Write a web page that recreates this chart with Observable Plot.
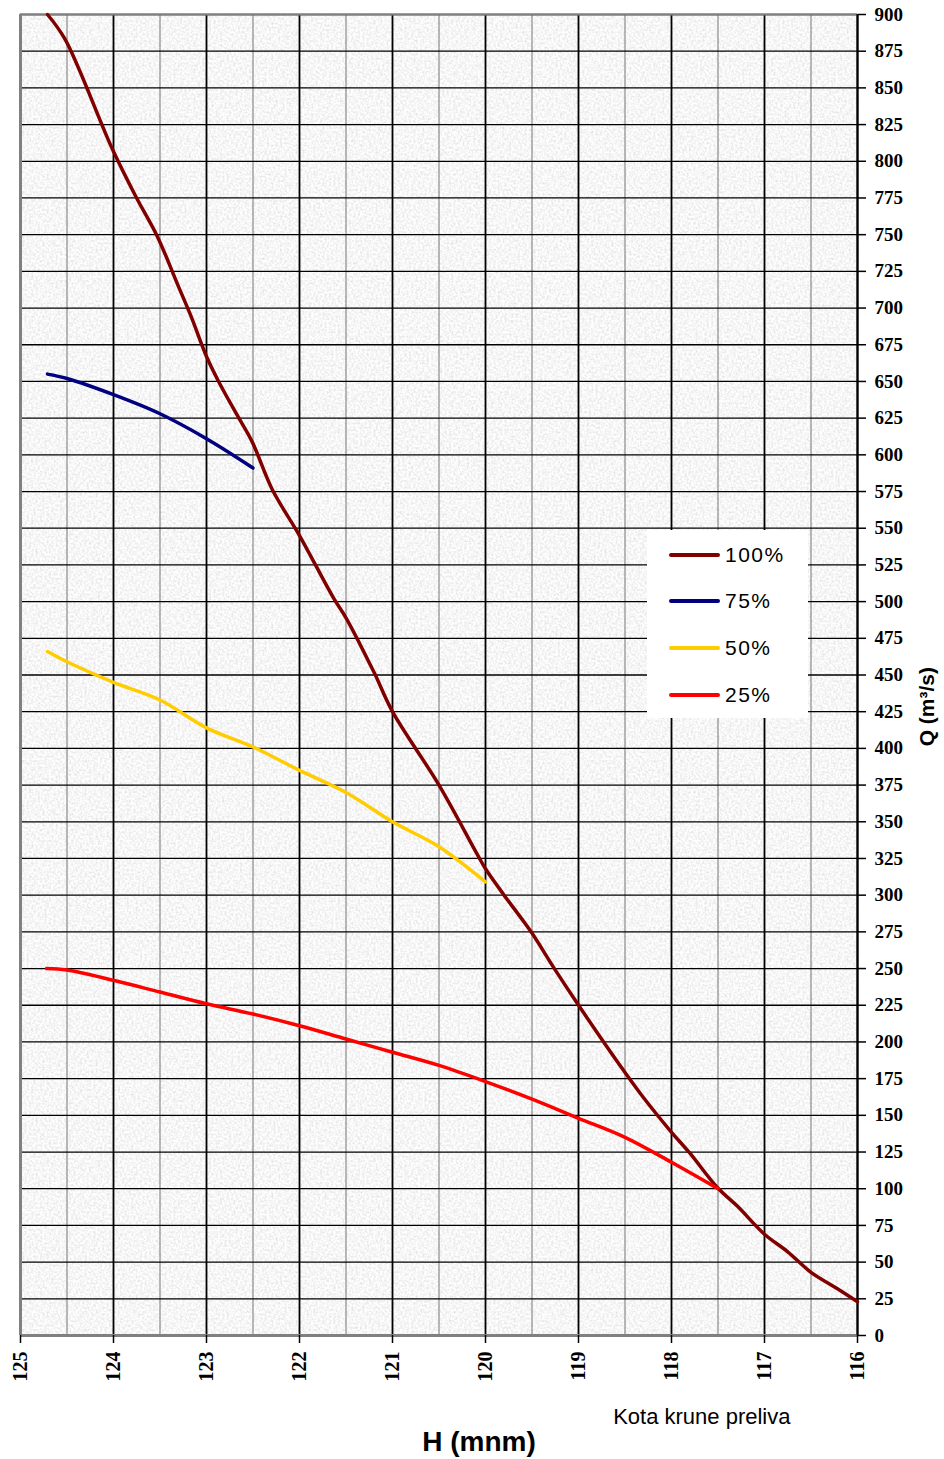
<!DOCTYPE html>
<html><head><meta charset="utf-8">
<script src="https://cdn.jsdelivr.net/npm/d3@7"></script>
<script src="https://cdn.jsdelivr.net/npm/@observablehq/plot@0.6"></script>
<style>
body{margin:0;background:#fff;}
#wrap{position:relative;width:944px;height:1459px;}
#legend{position:absolute;left:647px;top:530px;width:161px;height:188px;background:#fff;font-family:"Liberation Sans",Arial,sans-serif;font-size:21px;color:#000;}
.row{position:absolute;left:22px;height:24px;display:flex;align-items:center;letter-spacing:1.5px;}
.sw{width:51px;height:4px;border-radius:2px;margin-right:5px;}
</style></head>
<body><div id="wrap"><div id="legend"></div></div>
<script>
// Series names and colors
const seriesNames = ["100%", "75%", "50%", "25%"];
const seriesColors = ["#800000", "#000080", "#FFCC00", "#FF0000"];

// 100%
const h100 = [124.71, 124.52, 124.01, 123.76, 123.53, 123.31, 123.17, 123.0, 122.87, 122.67, 122.51, 122.29, 122.0, 121.63, 121.5, 121.2, 121.0, 120.5, 120.09, 120.0, 119.8, 119.51, 119.27, 119.01, 118.73, 118.52, 118.3, 118.02, 117.8, 117.51, 117.29, 117.0, 116.75, 116.5, 116.22, 116.0];
const q100 = [900, 883, 808, 776, 749, 716, 695, 667, 650, 627, 609, 576, 545, 502, 489, 452, 425, 375, 328, 318, 300, 275, 251, 226, 200, 181, 162, 140, 124, 101, 88, 69, 57, 43, 32, 23];
// 75%
const h75 = [124.71, 124.5, 124.0, 123.5, 123.0, 122.5];
const q75 = [655, 652, 641, 628, 611, 591];
// 50%
const h50 = [124.71, 124.5, 124.0, 123.5, 123.0, 122.5, 122.0, 121.5, 121.0, 120.5, 120.0];
const q50 = [466, 459, 445, 433, 414, 401, 385, 370, 350, 333, 309];
// 25%
const h25 = [124.72, 124.5, 124.0, 123.5, 123.0, 122.5, 122.0, 121.5, 121.0, 120.5, 120.0, 119.5, 119.0, 118.5, 118.0, 117.5];
const q25 = [250, 249, 242, 234, 226, 219, 211, 202, 193, 184, 173, 161, 148, 135, 118, 100];

// Ticks
const hTicks = [125, 124, 123, 122, 121, 120, 119, 118, 117, 116];
const hHalfTicks = [124.5, 123.5, 122.5, 121.5, 120.5, 119.5, 118.5, 117.5, 116.5];
const qTicks = d3.range(0, 901, 25);

const hs = [h100, h75, h50, h25];
const qs = [q100, q75, q50, q25];
const data = seriesNames.map((name, i) => ({name, color: seriesColors[i], pts: hs[i].map((h, j) => ({H: h, Q: qs[i][j]}))}));

const sans = "'Liberation Sans', Arial, sans-serif";
const chart = Plot.plot({
  width: 944, height: 1459,
  marginTop: 14, marginBottom: 124, marginLeft: 20, marginRight: 87,
  x: {domain: [125, 116]},
  y: {domain: [0, 900]},
  style: {background: "transparent", color: "#000", fontFamily: "'Liberation Serif', serif"},
  marks: [
    Plot.frame({fill: "#ebebeb", stroke: null, className: "bgframe"}),
    Plot.gridX(hHalfTicks, {stroke: "#8a8a8a", strokeOpacity: 1, strokeWidth: 1.2}),
    Plot.gridX(hTicks, {stroke: "#000", strokeOpacity: 1, strokeWidth: 1.8}),
    Plot.gridY(qTicks, {stroke: "#000", strokeOpacity: 1, strokeWidth: 1.3}),
    Plot.ruleY([900], {stroke: "#808080", strokeWidth: 2}),
    Plot.ruleY([0], {stroke: "#808080", strokeWidth: 3}),
    Plot.ruleX([125], {stroke: "#808080", strokeWidth: 3}),
    Plot.ruleX([116], {stroke: "#000", strokeWidth: 2}),
    ...data.map(s => Plot.line(s.pts, {x: "H", y: "Q", stroke: s.color, strokeWidth: 3.5, curve: "catmull-rom", strokeLinecap: "round", strokeLinejoin: "round"})),
    Plot.axisY(qTicks, {anchor: "right", tickSize: 8, tickPadding: 9, fontSize: 19, fontWeight: "bold", label: null, stroke: "#000", strokeWidth: 1.5}),
    Plot.axisX(hTicks, {anchor: "bottom", tickSize: 8, tickPadding: 8, tickRotate: -90, fontSize: 20, fontWeight: "bold", label: null, stroke: "#000", strokeWidth: 1.5, tickFormat: d => String(d)}),
    Plot.text(["Kota krune preliva"], {frameAnchor: "bottom-right", dx: -67, dy: 88, textAnchor: "end", fontFamily: sans, fontSize: 22}),
    Plot.text(["H (mnm)"], {frameAnchor: "bottom", dx: 40, dy: 115, fontFamily: sans, fontWeight: "bold", fontSize: 28}),
    Plot.text(["Q (m³/s)"], {frameAnchor: "right", dx: 70, dy: -8, rotate: -90, fontFamily: sans, fontWeight: "bold", fontSize: 21})
  ]
});
document.getElementById("wrap").prepend(chart);
chart.style.position = "absolute"; chart.style.left = "0"; chart.style.top = "0";

// Paper-like texture on the plot background
const svgNS = "http://www.w3.org/2000/svg";
const defs = document.createElementNS(svgNS, "defs");
defs.innerHTML = `<filter id="paper" x="0" y="0" width="1" height="1">
  <feTurbulence type="fractalNoise" baseFrequency="0.45" numOctaves="2" seed="3" result="n"/>
  <feColorMatrix in="n" type="matrix" values="0.45 0 0 0 0.7  0.45 0 0 0 0.7  0.45 0 0 0 0.7  0 0 0 0 1" result="g"/>
  <feComposite in="g" in2="SourceGraphic" operator="in"/>
</filter>`;
chart.insertBefore(defs, chart.firstChild);
const bg = chart.querySelector(".bgframe rect, g.bgframe, rect.bgframe") || chart.querySelector("[aria-label=frame] rect, [aria-label=frame]");
if (bg) bg.setAttribute("filter", "url(#paper)");

// Legend
const legend = document.getElementById("legend");
const rowTops = [13, 59, 106, 153];
data.forEach((s, i) => {
  const row = document.createElement("div");
  row.className = "row";
  row.style.top = rowTops[i] + "px";
  const sw = document.createElement("div");
  sw.className = "sw"; sw.style.background = s.color;
  const t = document.createElement("span"); t.textContent = s.name;
  row.append(sw, t);
  legend.append(row);
});
</script>
</body></html>
